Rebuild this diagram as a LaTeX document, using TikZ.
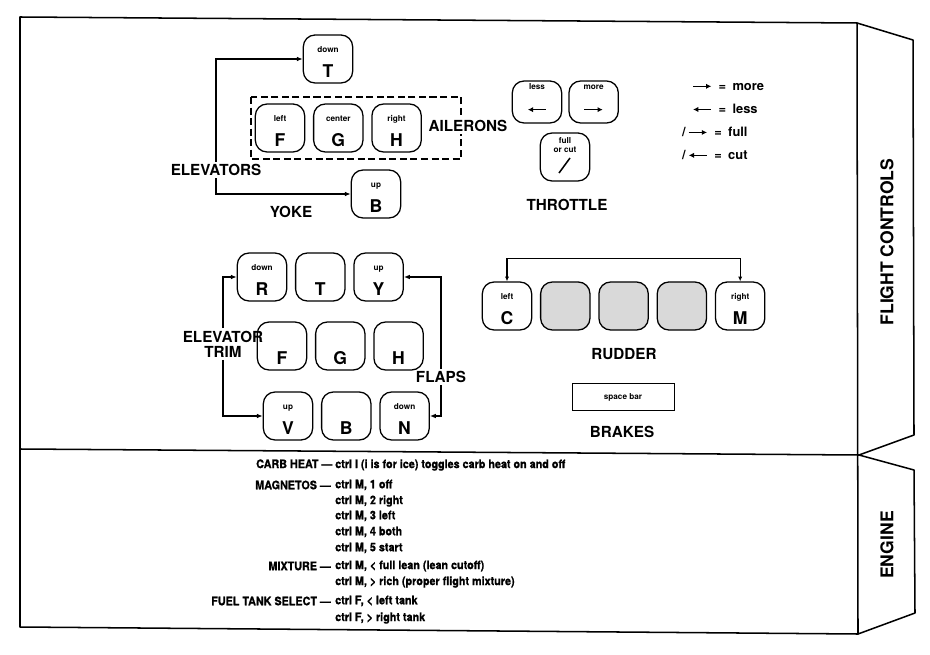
\documentclass[tikz,border=0pt]{standalone}
\usepackage{fontspec}
\setmainfont{TeX Gyre Heros}
\newfontfamily\narrowfont[FakeStretch=0.92,FakeBold=1]{TeX Gyre Heros}
\usetikzlibrary{arrows.meta,positioning}

\newcommand{\rarr}{\tikz[baseline=-0.6ex]\draw[line width=1.3pt,-{Latex[length=4.5pt,width=4.5pt]}] (0cm,0cm) -- (0.55cm,0cm);}
\newcommand{\larr}{\tikz[baseline=-0.6ex]\draw[line width=1.3pt,{Latex[length=4.5pt,width=4.5pt]}-] (0cm,0cm) -- (0.55cm,0cm);}

\begin{document}
\begin{tikzpicture}[
  x=0.03cm, y=-0.03cm,
  font=\bfseries,
  node distance=0.23cm,
  key/.style={draw, line width=1.1pt, rounded corners=10pt, minimum width=1.48cm,
              minimum height=1.44cm, inner sep=0pt, text height=1.1cm, text depth=0pt,
              font=\fontsize{15}{17}\selectfont\bfseries},
  greykey/.style={key, fill=black!15},
  keytop/.style={font=\fontsize{7}{7.5}\selectfont\bfseries, text depth=0pt,
                 inner sep=1pt, label distance=-0.58cm},
  title/.style={font=\fontsize{13}{13}\selectfont\bfseries, inner sep=2pt, align=center},
  tab/.style={font=\fontsize{15}{17}\selectfont\bfseries, rotate=90},
  cmd/.style={font=\narrowfont\fontsize{10}{11}\selectfont\bfseries, inner sep=0pt},
  legend/.style={font=\fontsize{11}{13}\selectfont\bfseries, anchor=west, inner sep=0pt},
  link/.style={line width=1.1pt, -{Latex[length=5pt,width=4pt]}},
  frame/.style={line width=1.3pt, line join=round}
]

\useasboundingbox[fill=white] (0,0) rectangle (930,655);

% Outline of the card
\draw[frame] (20,17) -- (857,23) -- (858,634) -- (20,627) -- cycle;
\draw[frame] (20,449) -- (859,455);
\draw[frame] (857,23) -- (913,40) -- (914,435) -- (859,455) -- (914,470) -- (915,613) -- (858,634);
\node[tab] (flight) at (887,242) {FLIGHT CONTROLS};
\node[tab] (engine) at (887,545) {ENGINE};

% Yoke keys
\node[key, label={[keytop]north:down}] (downT) at (328,59) {T};
\node[key, label={[keytop]north:left}] (ailF) at (280,128) {F};
\node[key, label={[keytop]north:center}, right=of ailF] (ailG) {G};
\node[key, label={[keytop]north:right}, right=of ailG] (ailH) {H};
\draw[line width=1.1pt, dash pattern=on 6pt off 3pt] (251,97) rectangle (461,159);
\node[title, fill=white] (ailerons) at (468,126) {AILERONS};
\node[key, label={[keytop]north:up}] (upB) at (376,194) {B};
\node[title] (elevators) at (216,170) {ELEVATORS};
\node[title] (yoke) at (291,212) {YOKE};
\draw[link] (elevators.north) |- (downT.west);
\draw[link] (elevators.south) |- (upB.west);

% Throttle
\node[key, minimum height=1.26cm, text height=0.8cm,
      label={[keytop, label distance=-0.31cm]north:less}] (less) at (537,102) {\larr};
\node[key, minimum height=1.26cm, text height=0.8cm,
      label={[keytop, label distance=-0.31cm]north:more}, right=0.18cm of less] (more) {\rarr};
\node[key, label={[keytop, align=center, label distance=-0.64cm]north:{full\\or cut}}] (fullcut) at (565,157) {};
\draw[line width=1.3pt] ([xshift=-0.18cm,yshift=-0.48cm]fullcut.center) -- ++(0.33cm,0.45cm);
\node[title] (throttle) at (567,205) {THROTTLE};

% Legend
\node[legend] (lgmore) at (692,87) {\rarr\enspace=\enspace more};
\node[legend] (lgless) at (692,109) {\larr\enspace=\enspace less};
\node[legend] (lgfull) at (682,132) {/\,\rarr\enspace=\enspace full};
\node[legend] (lgcut) at (682,155) {/\,\larr\enspace=\enspace cut};

% Trim and flaps keys
\node[key, label={[keytop]north:down}] (trimR) at (262,277) {R};
\node[key, right=of trimR] (trimT) {T};
\node[key, label={[keytop]north:up}, right=of trimT] (trimY) {Y};
\node[key] (trimF) at (282,346) {F};
\node[key, right=of trimF] (trimG) {G};
\node[key, right=of trimG] (trimH) {H};
\node[key, label={[keytop]north:up}] (trimV) at (288,416) {V};
\node[key, right=of trimV] (trimB) {B};
\node[key, label={[keytop]north:down}, right=of trimB] (trimN) {N};
\node[title] (trim) at (223,344) {ELEVATOR\\TRIM};
\node[title] (flaps) at (441,377) {FLAPS};
\draw[link] (trim.north) |- (trimR.west);
\draw[link] (trim.south) |- (trimV.west);
\draw[link] (flaps.north) |- (trimY.east);
\draw[link] (flaps.south) |- (trimN.east);

% Rudder and brakes
\node[key, label={[keytop]north:left}] (rudC) at (507,306) {C};
\node[greykey, right=of rudC] (rud1) {};
\node[greykey, right=of rud1] (rud2) {};
\node[greykey, right=of rud2] (rud3) {};
\node[key, label={[keytop]north:right}, right=of rud3] (rudM) {M};
\draw[line width=0.9pt, {Latex[length=4pt,width=3.5pt]}-{Latex[length=4pt,width=3.5pt]}]
  (rudC.north) -- ++(0cm,0.69cm) -| (rudM.north);
\node[title] (rudder) at (624,354) {RUDDER};
\node[draw, line width=0.8pt, minimum width=3.06cm, minimum height=0.81cm,
      font=\fontsize{7}{8}\selectfont\bfseries] (spacebar) at (623,397) {space bar};
\node[title] (brakes) at (622,432) {BRAKES};

% Engine commands
\node[cmd, anchor=west] (carb) at (256,465) {CARB HEAT — ctrl I (i is for ice) toggles carb heat on and off};
\node[cmd, anchor=east] (magnetos) at (331,485) {MAGNETOS —};
\node[cmd, anchor=west] (mag1) at (335,485) {ctrl M, 1 off};
\node[cmd, anchor=west] (mag2) at (335,501) {ctrl M, 2 right};
\node[cmd, anchor=west] (mag3) at (335,516) {ctrl M, 3 left};
\node[cmd, anchor=west] (mag4) at (335,532) {ctrl M, 4 both};
\node[cmd, anchor=west] (mag5) at (335,548) {ctrl M, 5 start};
\node[cmd, anchor=east] (mixture) at (331,566) {MIXTURE —};
\node[cmd, anchor=west] (mix1) at (335,566) {ctrl M, < full lean (lean cutoff)};
\node[cmd, anchor=west] (mix2) at (335,582) {ctrl M, > rich (proper flight mixture)};
\node[cmd, anchor=east] (fuel) at (331,601) {FUEL TANK SELECT —};
\node[cmd, anchor=west] (fuel1) at (335,601) {ctrl F, < left tank};
\node[cmd, anchor=west] (fuel2) at (335,618) {ctrl F, > right tank};

\end{tikzpicture}
\end{document}
